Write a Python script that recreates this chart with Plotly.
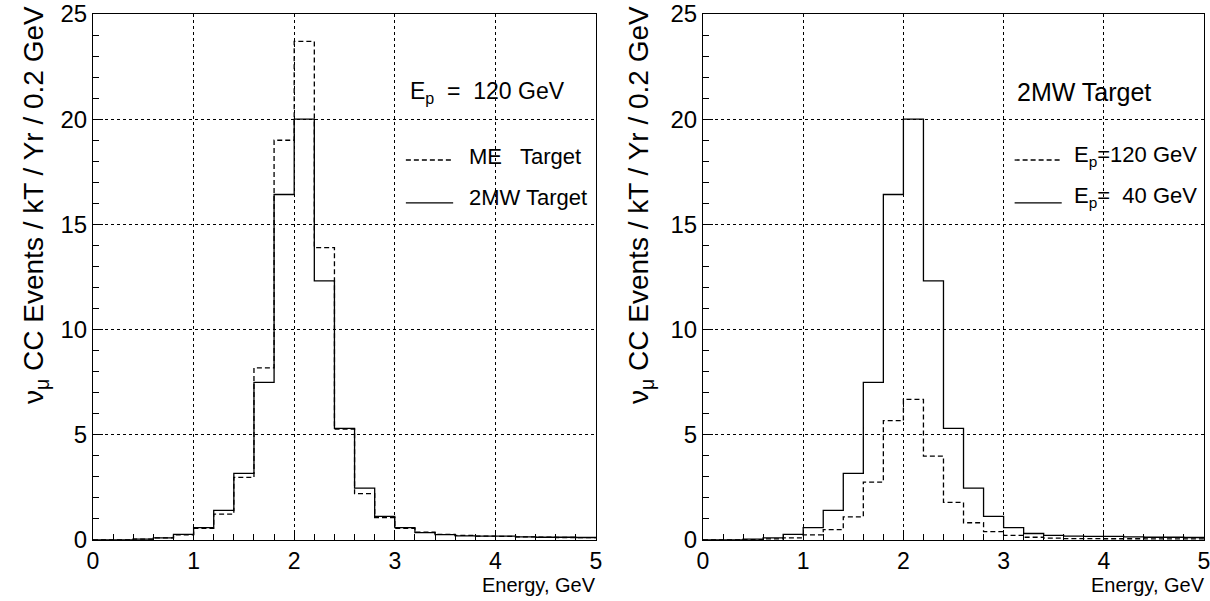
import plotly.graph_objects as go

# ---- data (bin edges 0..5 GeV, 0.2 GeV bins) ----
bin_edges = [round(0.2 * i, 1) for i in range(26)]

left_me_target = [0, 0, 0.04, 0.10, 0.25, 0.55, 1.23, 2.98, 8.18, 19.0, 23.7, 13.9, 5.27,
                  2.20, 1.06, 0.55, 0.37, 0.27, 0.22, 0.18, 0.17, 0.15, 0.13, 0.12, 0.11]
left_2mw_target = [0, 0, 0.04, 0.10, 0.27, 0.59, 1.41, 3.17, 7.49, 16.42, 20.0, 12.32, 5.31,
                   2.47, 1.12, 0.59, 0.35, 0.26, 0.20, 0.18, 0.18, 0.15, 0.13, 0.13, 0.12]

right_ep120 = [0, 0, 0.02, 0.05, 0.10, 0.24, 0.49, 1.10, 2.75, 5.67, 6.68, 3.99, 1.79,
               0.82, 0.40, 0.22, 0.13, 0.09, 0.07, 0.07, 0.06, 0.06, 0.05, 0.05, 0.05]
right_ep40 = [0, 0, 0.04, 0.10, 0.27, 0.59, 1.41, 3.17, 7.49, 16.42, 20.0, 12.32, 5.31,
              2.47, 1.12, 0.59, 0.31, 0.22, 0.18, 0.17, 0.17, 0.15, 0.13, 0.13, 0.12]

x_ticks = [0, 1, 2, 3, 4, 5]
y_ticks = [0, 5, 10, 15, 20, 25]

FONT = "Liberation Sans"
W, H = 1210, 601


def step(vals):
    return bin_edges, list(vals) + [vals[-1]]


fig = go.Figure()

for vals, dash, xa, ya in [
    (left_me_target, "5px,3px", "x", "y"),
    (left_2mw_target, "solid", "x", "y"),
    (right_ep120, "5px,3px", "x2", "y2"),
    (right_ep40, "solid", "x2", "y2"),
]:
    xs, ys = step(vals)
    fig.add_trace(go.Scatter(x=xs, y=ys, mode="lines", line_shape="hv",
                             line=dict(color="black", width=1.3, dash=dash),
                             xaxis=xa, yaxis=ya, showlegend=False, hoverinfo="skip"))


def px_x(p):
    return p / W


def px_y(p):
    return 1 - p / H


top, bot = 14, 540
xdom_l = [px_x(93), px_x(596)]
xdom_r = [px_x(703), px_x(1204)]
ydom = [px_y(bot), px_y(top)]

common_x = dict(range=[0, 5], tickvals=x_ticks, ticks="inside", ticklen=10, tickcolor="black",
                showgrid=True, gridcolor="black", griddash="dot", gridwidth=1,
                showline=True, linecolor="black", linewidth=1, mirror=True, zeroline=False,
                automargin=False, ticklabeloverflow="allow",
                minor=dict(dtick=0.2, ticks="inside", ticklen=6, tickcolor="black", showgrid=False),
                tickfont=dict(family=FONT, size=23, color="black"), fixedrange=True)
common_y = dict(range=[0, 25], tickvals=y_ticks, ticks="inside", ticklen=10, tickcolor="black",
                showgrid=True, gridcolor="black", griddash="dot", gridwidth=1,
                showline=True, linecolor="black", linewidth=1, mirror=True, zeroline=False,
                automargin=False, ticklabeloverflow="allow",
                minor=dict(dtick=1, ticks="inside", ticklen=6, tickcolor="black", showgrid=False),
                tickfont=dict(family=FONT, size=24, color="black"), fixedrange=True)

fig.update_layout(
    template="none",
    width=W, height=H, margin=dict(l=0, r=0, t=0, b=0, pad=0),
    paper_bgcolor="white", plot_bgcolor="white",
    xaxis=dict(domain=xdom_l, anchor="y", **common_x),
    yaxis=dict(domain=ydom, anchor="x", **common_y),
    xaxis2=dict(domain=xdom_r, anchor="y2", **common_x),
    yaxis2=dict(domain=ydom, anchor="x2", **common_y),
    font=dict(family=FONT, color="black"),
)

ytitle = "ν<sub>μ</sub> CC Events / kT / Yr / 0.2 GeV"
ann = []
for xc in [35, 640]:
    ann.append(dict(text=ytitle, x=px_x(xc), y=px_y(4), xref="paper", yref="paper",
                    xanchor="center", yanchor="top", textangle=-90, showarrow=False,
                    font=dict(family=FONT, size=28)))
for xr in [598, 1207]:
    ann.append(dict(text="Energy, GeV", x=px_x(xr), y=px_y(585), xref="paper", yref="paper",
                    xanchor="right", yanchor="middle", showarrow=False,
                    font=dict(family=FONT, size=20)))

# left legend
ann.append(dict(text="E<sub>p</sub>  =  120 GeV", x=3.13, y=21.25, xref="x", yref="y",
                xanchor="left", yanchor="middle", showarrow=False, font=dict(family=FONT, size=23)))
ann.append(dict(text="ME   Target", x=3.72, y=18.25, xref="x", yref="y",
                xanchor="left", yanchor="middle", showarrow=False, font=dict(family=FONT, size=22)))
ann.append(dict(text="2MW Target", x=3.72, y=16.3, xref="x", yref="y",
                xanchor="left", yanchor="middle", showarrow=False, font=dict(family=FONT, size=22)))
# right legend
ann.append(dict(text="2MW Target", x=3.11, y=21.3, xref="x2", yref="y2",
                xanchor="left", yanchor="middle", showarrow=False, font=dict(family=FONT, size=25)))
ann.append(dict(text="E<sub>p</sub>=120 GeV", x=3.68, y=18.25, xref="x2", yref="y2",
                xanchor="left", yanchor="middle", showarrow=False, font=dict(family=FONT, size=22)))
ann.append(dict(text="E<sub>p</sub>=  40 GeV", x=3.68, y=16.3, xref="x2", yref="y2",
                xanchor="left", yanchor="middle", showarrow=False, font=dict(family=FONT, size=22)))
fig.update_layout(annotations=ann)

shapes = []
for xr, yr in [("x", "y"), ("x2", "y2")]:
    shapes.append(dict(type="line", x0=3.11, x1=3.58, y0=18.06, y1=18.06, xref=xr, yref=yr,
                       line=dict(color="black", width=1.3, dash="5px,3px")))
    shapes.append(dict(type="line", x0=3.11, x1=3.58, y0=16.02, y1=16.02, xref=xr, yref=yr,
                       line=dict(color="black", width=1.3)))
fig.update_layout(shapes=shapes)

fig.write_html("out.html", config={"displayModeBar": False},
               post_script="document.body.style.margin='0';document.body.style.padding='0';")
